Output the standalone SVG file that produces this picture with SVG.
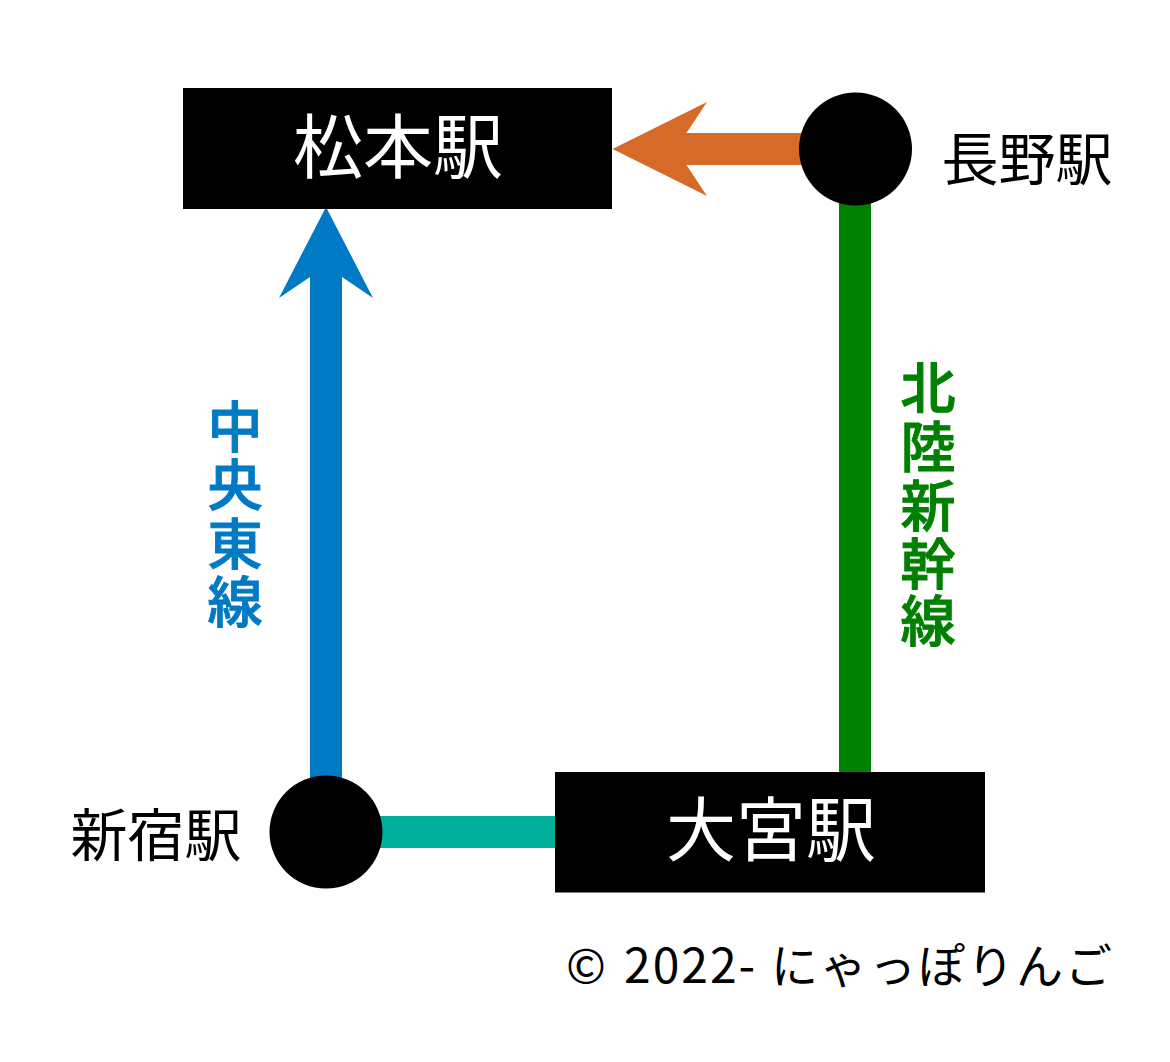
<svg xmlns="http://www.w3.org/2000/svg" width="1170" height="1062" viewBox="0 0 1170 1062">
<style>
text{font-family:"Noto Sans CJK JP","Noto Sans CJK SC","Liberation Sans",sans-serif}
.t{font-size:57px;text-anchor:middle}
.w{fill:#fff;font-size:70px;text-anchor:middle}
.v{font-size:55px;font-weight:500;text-anchor:middle;stroke-width:1}
</style>
<rect width="1170" height="1062" fill="#fff"/>
<g id="connectors">
<path d="M326 207L373 298L342 277V795H310V277L279 298Z" fill="#007ac5"/>
<rect x="839" y="190" width="32" height="590" fill="#008000"/>
<path d="M612.500 149L707 102L686.500 133H810V165H686.500L707 196Z" fill="#d66a29"/>
<rect x="370" y="816" width="190" height="32" fill="#00ae9a"/>
</g>
<g id="matsumoto"><rect x="183" y="88" width="429" height="121"/><text class="w" x="398" y="173">松本駅</text></g>
<g id="nagano"><circle cx="855.500" cy="149" r="56.500"/><text class="t" x="1027" y="180">長野駅</text></g>
<g id="omiya"><rect x="555" y="772" width="430" height="120.500"/><text class="w" x="771" y="856">大宮駅</text></g>
<g id="shinjuku"><circle cx="326" cy="832" r="56.500"/><text class="t" x="156" y="856">新宿駅</text></g>
<g id="chuo" fill="#007ac5" stroke="#007ac5"><text class="v"><tspan x="235" y="447">中</tspan><tspan x="235" y="505">央</tspan><tspan x="235" y="564">東</tspan><tspan x="235" y="622">線</tspan></text></g>
<g id="hokuriku" fill="#008000" stroke="#008000"><text class="v"><tspan x="928" y="408">北</tspan><tspan x="928" y="467">陸</tspan><tspan x="928" y="526">新</tspan><tspan x="928" y="584">幹</tspan><tspan x="928" y="641">線</tspan></text></g>
<text id="copyright" y="983" font-size="48"><tspan x="566">©</tspan><tspan x="624" letter-spacing="2">2022-</tspan><tspan x="771" font-size="47" letter-spacing="2">にゃっぽりんご</tspan></text>
</svg>
